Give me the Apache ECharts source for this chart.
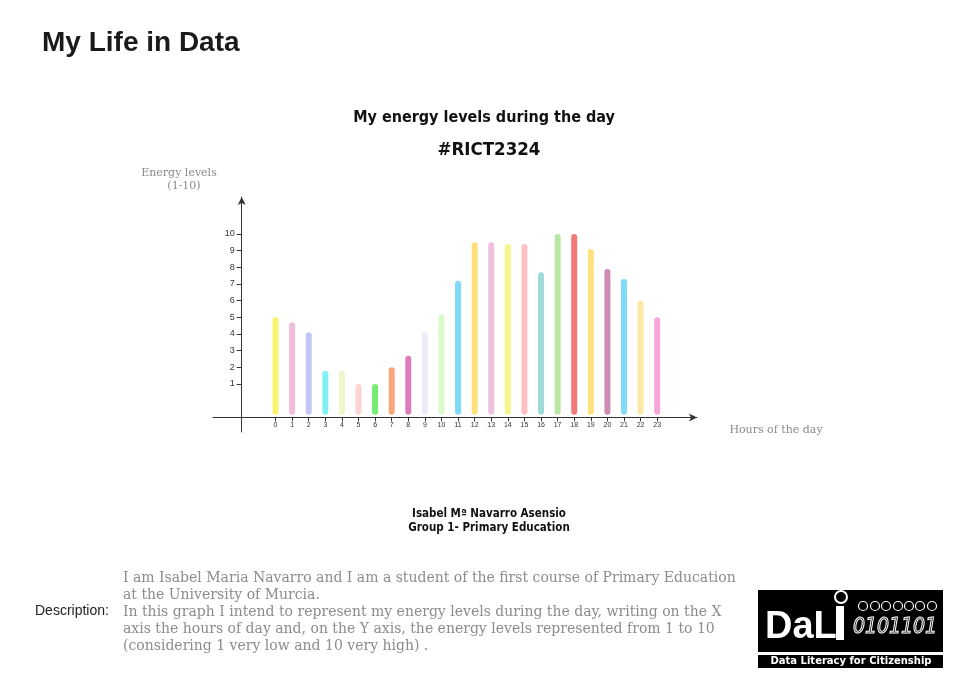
<!DOCTYPE html>
<html>
<head>
<meta charset="utf-8">
<script src="https://cdn.jsdelivr.net/npm/echarts@6/dist/echarts.min.js"></script>
<style>
html,body{margin:0;padding:0;background:#fff;}
#chart{width:973px;height:688px;}
</style>
</head>
<body>
<div id="chart"></div>
<script>
// ---- data ----
var hours = [0,1,2,3,4,5,6,7,8,9,10,11,12,13,14,15,16,17,18,19,20,21,22,23];
var energy = [5,4.7,4.1,1.8,1.8,1,1,2,2.7,4.1,5.2,7.2,9.5,9.5,9.4,9.4,7.7,10,10,9.1,7.9,7.3,6,5];
var barColors = ['#f9f36e','#efbdd9','#c2c6f6','#80f2f6','#eef7c9','#fdd3d3','#74ec74','#f8a77c',
                 '#dd7cbd','#ececf8','#d8f9c9','#7fd9f8','#fddf7c','#f0c0df','#f6f68a','#fcc0c2',
                 '#9fd9da','#b9e7a1','#f47878','#fde27e','#cc8cb4','#80dbf7','#fbe9a6','#f8a6da'];
var yTickValues = [1,2,3,4,5,6,7,8,9,10];
var xTickValues = hours;
var titleText = 'My energy levels during the day';
var subtitleText = '#RICT2324';
var descriptionLines = [
  'I am Isabel Maria Navarro and I am a student of the first course of Primary Education',
  'at the University of Murcia.',
  'In this graph I intend to represent my energy levels during the day, writing on the X',
  'axis the hours of day and, on the Y axis, the energy levels represented from 1 to 10',
  '(considering 1 very low and 10 very high) .'
];

var AXIS_BASE = -1;
var chart = echarts.init(document.getElementById('chart'), null, {renderer:'canvas'});

var graphics = [
  {type:'text', x:42, y:43, style:{text:'My Life in Data', font:'bold 28px "Liberation Sans", Arial, sans-serif', fill:'#1a1a1a', verticalAlign:'middle'}},
  {type:'text', x:484, y:118, style:{text:titleText, font:'bold 16px "DejaVu Sans Condensed", "DejaVu Sans", sans-serif', fill:'#111', align:'center', verticalAlign:'middle'}},
  {type:'text', x:489, y:150, style:{text:subtitleText, font:'bold 18.5px "DejaVu Sans Condensed", "DejaVu Sans", sans-serif', fill:'#111', align:'center', verticalAlign:'middle'}},
  {type:'text', x:179, y:173, style:{text:'Energy levels', font:'11px "DejaVu Serif", serif', fill:'#8a8a8a', align:'center', verticalAlign:'middle'}},
  {type:'text', x:184, y:186, style:{text:'(1-10)', font:'11px "DejaVu Serif", serif', fill:'#8a8a8a', align:'center', verticalAlign:'middle'}},
  {type:'text', x:776, y:430, style:{text:'Hours of the day', font:'11px "DejaVu Serif", serif', fill:'#8a8a8a', align:'center', verticalAlign:'middle'}},
  {type:'text', x:489, y:514, style:{text:'Isabel Mª Navarro Asensio', font:'bold 11.5px "DejaVu Sans Condensed", "DejaVu Sans", sans-serif', fill:'#111', align:'center', verticalAlign:'middle'}},
  {type:'text', x:489, y:528, style:{text:'Group 1- Primary Education', font:'bold 11.5px "DejaVu Sans Condensed", "DejaVu Sans", sans-serif', fill:'#111', align:'center', verticalAlign:'middle'}},
  {type:'text', x:35, y:611, style:{text:'Description:', font:'14px "Liberation Sans", Arial, sans-serif', fill:'#222', verticalAlign:'middle'}}
];
descriptionLines.forEach(function(line, i){
  graphics.push({type:'text', x:123, y:578 + i*17, style:{text:line, font:'14px "DejaVu Serif", serif', fill:'#8c8c8c', verticalAlign:'middle'}});
});
// logo
graphics.push(
  {type:'rect', shape:{x:758, y:590, width:185, height:62}, style:{fill:'#000'}},
  {type:'rect', shape:{x:758, y:655, width:185, height:13}, style:{fill:'#000'}},
  {type:'text', x:765, y:628, style:{text:'DaL', font:'bold 38px "Liberation Sans", Arial, sans-serif', fill:'#fff', verticalAlign:'middle'}},
  {type:'rect', shape:{x:836, y:606, width:8, height:34}, style:{fill:'#fff'}},
  {type:'circle', shape:{cx:841, cy:597, r:6}, style:{fill:'none', stroke:'#fff', lineWidth:2}},
  {type:'text', x:853, y:628, style:{text:'0101101', font:'italic 21px "DejaVu Sans Condensed", sans-serif', fill:'none', stroke:'#fff', lineWidth:1, verticalAlign:'middle'}},
  {type:'text', x:851, y:661, style:{text:'Data Literacy for Citizenship', font:'bold 10px "DejaVu Sans", sans-serif', fill:'#fff', align:'center', verticalAlign:'middle'}}
);
[863,875,886,898,909,920,932].forEach(function(cx){
  graphics.push({type:'circle', shape:{cx:cx, cy:606, r:4.5}, style:{fill:'none', stroke:'#fff', lineWidth:1.2}});
});

var option = {
  backgroundColor:'#fff',
  animation:false,
  grid:{left:213, right:276, top:197, bottom:256, containLabel:false},
  xAxis:{
    type:'value', min:-3.77, max:25.4, offset:-14.6,
    splitLine:{show:false},
    axisLine:{show:true, onZero:false, symbol:['none','arrow'], symbolSize:[6,8], lineStyle:{color:'#333', width:1}},
    axisTick:{show:true, customValues:xTickValues, length:4, inside:false, lineStyle:{color:'#333'}},
    axisLabel:{show:true, customValues:xTickValues, fontSize:7, color:'#333', margin:4}
  },
  yAxis:{
    type:'value', min:-1.88, max:12.22, offset:-28.7,
    splitLine:{show:false},
    axisLine:{show:true, onZero:false, symbol:['none','arrow'], symbolSize:[6,8], lineStyle:{color:'#333', width:1}},
    axisTick:{show:true, customValues:yTickValues, length:5, lineStyle:{color:'#333'}},
    axisLabel:{show:true, customValues:yTickValues, fontSize:9, color:'#333', margin:7}
  },
  series:[{
    type:'custom',
    data: hours.map(function(h,i){ return [h, energy[i]]; }),
    renderItem:function(params, api){
      var x = api.value(0), v = api.value(1);
      var top = api.coord([x, v]);
      var base = api.coord([x, AXIS_BASE + 0.15]);
      var w = 6;
      return {type:'rect', shape:{x:top[0]-w/2, y:top[1], width:w, height:base[1]-top[1], r:3},
              style:{fill:barColors[params.dataIndex]}};
    }
  }],
  graphic:graphics
};
chart.setOption(option);
</script>
</body>
</html>
